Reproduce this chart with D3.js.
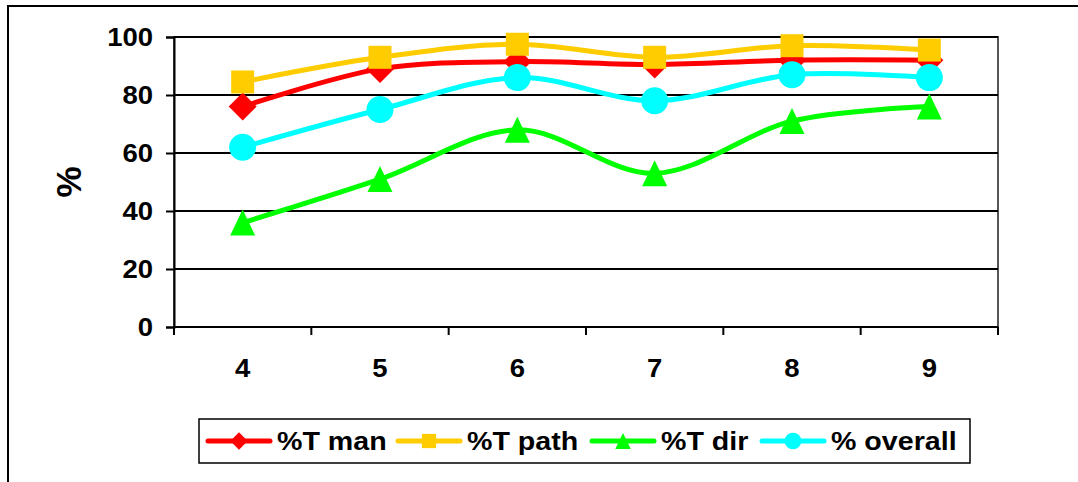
<!DOCTYPE html>
<html>
<head>
<meta charset="utf-8">
<script src="https://cdn.jsdelivr.net/npm/d3@7"></script>
<style>
  body { margin: 0; background: #fff; }
  text { font-family: Arial, "Liberation Sans", sans-serif; font-weight: bold; fill: #000; }
</style>
</head>
<body>
<svg id="chart" width="1078" height="482"></svg>
<script>
// Grades on the x axis and the four percentage series
const grades = ["4", "5", "6", "7", "8", "9"];
const tMan = [76, 89, 91.5, 90.5, 92, 92];
const tPath = [84.5, 93, 97.5, 93, 97, 95.5];
const tDir = [36, 51, 68, 53, 71, 76];
const overall = [62, 75, 86, 78, 87, 86];
const seriesNames = ["%T man", "%T path", "%T dir", "% overall"];
const yTicks = [0, 20, 40, 60, 80, 100];

const series = [
  { name: seriesNames[0], values: tMan, color: "#ff0000", marker: "diamond" },
  { name: seriesNames[1], values: tPath, color: "#ffcc00", marker: "square" },
  { name: seriesNames[2], values: tDir, color: "#00ff00", marker: "triangle" },
  { name: seriesNames[3], values: overall, color: "#00ffff", marker: "circle" }
];

const svg = d3.select("#chart");
const plot = { left: 174, right: 998, top: 37, bottom: 327 };
const stretch = 1.1; // horizontal widening of the bold labels

const x = d3.scaleBand().domain(grades).range([plot.left, plot.right]);
const y = d3.scaleLinear().domain([0, 100]).range([plot.bottom, plot.top]);

// outer chart frame
svg.append("rect")
  .attr("x", 8).attr("y", 6).attr("width", 1100).attr("height", 520)
  .attr("fill", "none").attr("stroke", "#000").attr("stroke-width", 2);

// plot area border
svg.append("rect")
  .attr("x", plot.left).attr("y", plot.top)
  .attr("width", plot.right - plot.left).attr("height", plot.bottom - plot.top)
  .attr("fill", "none").attr("stroke", "#555").attr("stroke-width", 2);

// horizontal gridlines
svg.append("g").selectAll("line")
  .data(yTicks.filter(d => d > 0))
  .join("line")
  .attr("x1", plot.left).attr("x2", plot.right)
  .attr("y1", d => y(d)).attr("y2", d => y(d))
  .attr("stroke", "#000").attr("stroke-width", 2);

// y axis
const yAxis = svg.append("g")
  .attr("transform", `translate(${plot.left},0)`)
  .call(d3.axisLeft(y).tickValues(yTicks).tickSize(8).tickPadding(13).tickFormat(d3.format("d")));
yAxis.select(".domain").attr("stroke", "#000").attr("stroke-width", 2);
yAxis.selectAll(".tick line").attr("stroke", "#000").attr("stroke-width", 2);
yAxis.selectAll(".tick text")
  .attr("font-size", 25)
  .attr("font-family", "Arial, 'Liberation Sans', sans-serif")
  .attr("font-weight", "bold")
  .attr("fill", "#000")
  .attr("x", null).attr("dy", null)
  .attr("dominant-baseline", "central")
  .attr("transform", `translate(-21,0) scale(${stretch},1)`);

// x axis: ticks sit on the category boundaries
const xAxis = svg.append("g").attr("transform", `translate(0,${plot.bottom})`);
xAxis.append("line")
  .attr("x1", plot.left).attr("x2", plot.right)
  .attr("stroke", "#000").attr("stroke-width", 2);
const bounds = grades.map(g => x(g)).concat([x(grades[grades.length - 1]) + x.bandwidth()]);
xAxis.selectAll("line.tk")
  .data(bounds)
  .join("line").attr("class", "tk")
  .attr("x1", d => d).attr("x2", d => d)
  .attr("y1", 0).attr("y2", 8)
  .attr("stroke", "#000").attr("stroke-width", 2);
xAxis.selectAll("text")
  .data(grades)
  .join("text")
  .attr("transform", d => `translate(${x(d) + x.bandwidth() / 2},50) scale(${stretch},1)`)
  .attr("text-anchor", "middle")
  .attr("font-size", 25)
  .text(d => d);

// y axis title
svg.append("text")
  .attr("transform", "translate(81,182) rotate(-90)")
  .attr("text-anchor", "middle")
  .attr("font-size", 35)
  .text("%");

// marker shapes
function markerPath(type, s) {
  const p = d3.path();
  if (type === "diamond") {
    const h = 14 * s;
    p.moveTo(0, -h); p.lineTo(h, 0); p.lineTo(0, h); p.lineTo(-h, 0); p.closePath();
    return p.toString();
  }
  if (type === "square") {
    const h = 11.5 * s;
    p.rect(-h, -h, 2 * h, 2 * h);
    return p.toString();
  }
  if (type === "triangle") {
    const w = 12.5 * s, h = 13 * s;
    p.moveTo(0, -h); p.lineTo(w, h); p.lineTo(-w, h); p.closePath();
    return p.toString();
  }
  p.arc(0, 0, 13.5 * s, 0, 2 * Math.PI);
  return p.toString();
}

const line = d3.line()
  .x((d, i) => x(grades[i]) + x.bandwidth() / 2)
  .y(d => y(d))
  .curve(d3.curveCardinal.tension(0));

series.forEach(s => {
  const g = svg.append("g");
  g.append("path")
    .attr("d", line(s.values))
    .attr("fill", "none")
    .attr("stroke", s.color)
    .attr("stroke-width", 5)
    .attr("stroke-linejoin", "round");
  g.selectAll("path.mk")
    .data(s.values)
    .join("path").attr("class", "mk")
    .attr("transform", (d, i) => `translate(${x(grades[i]) + x.bandwidth() / 2},${y(d)})`)
    .attr("d", markerPath(s.marker, 1))
    .attr("fill", s.color);
});

// legend
const legend = svg.append("g");
legend.append("rect")
  .attr("x", 199).attr("y", 419).attr("width", 771).attr("height", 44)
  .attr("fill", "#fff").attr("stroke", "#000").attr("stroke-width", 1.5);
const legendX = [208, 398, 592, 762];
const ly = 441;
series.forEach((s, i) => {
  const lx = legendX[i];
  legend.append("line")
    .attr("x1", lx).attr("x2", lx + 62).attr("y1", ly).attr("y2", ly)
    .attr("stroke", s.color).attr("stroke-width", 5).attr("stroke-linecap", "round");
  legend.append("path")
    .attr("transform", `translate(${lx + 31},${ly})`)
    .attr("d", markerPath(s.marker, 0.62))
    .attr("fill", s.color);
  legend.append("text")
    .attr("transform", `translate(${lx + 69},${ly}) scale(${stretch},1)`)
    .attr("dominant-baseline", "central")
    .attr("font-size", 26)
    .text(s.name);
});
</script>
</body>
</html>
